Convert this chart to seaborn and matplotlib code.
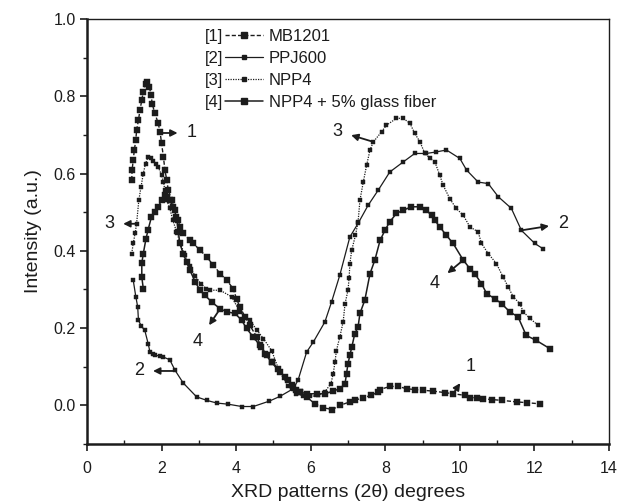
import numpy as np
import pandas as pd
import seaborn as sns
import matplotlib
matplotlib.use("Agg")
import matplotlib.pyplot as plt
from matplotlib.lines import Line2D
from matplotlib.ticker import MultipleLocator

# ---------------- data ----------------
series_names = ["MB1201", "PPJ600", "NPP4", "NPP4 + 5% glass fiber"]
legend_tags = ["[1]", "[2]", "[3]", "[4]"]

x_mb1201 = [1.20, 1.21, 1.24, 1.27, 1.31, 1.33, 1.38, 1.42, 1.47, 1.51, 1.57, 1.60, 1.67, 1.72,
            1.75, 1.82, 1.91, 1.96, 2.00, 2.05, 2.09, 2.14, 2.18, 2.27, 2.36, 2.45, 2.49, 2.58,
            2.76, 2.85, 3.03, 3.21, 3.39, 3.57, 3.75, 3.92, 4.01, 4.10, 4.24, 4.37, 4.55, 4.68,
            4.82, 4.95, 5.13, 5.31, 5.49, 5.60, 5.71, 5.89, 6.11, 6.34, 6.58, 6.78, 7.05, 7.18,
            7.41, 7.63, 7.81, 7.86, 8.12, 8.35, 8.57, 8.79, 9.02, 9.27, 9.60, 9.82, 10.13, 10.27,
            10.45, 10.63, 10.85, 11.12, 11.52, 11.79, 12.14]
y_mb1201 = [0.583, 0.609, 0.635, 0.661, 0.687, 0.712, 0.738, 0.764, 0.790, 0.812, 0.833, 0.838,
            0.825, 0.803, 0.780, 0.756, 0.730, 0.708, 0.678, 0.643, 0.609, 0.583, 0.557, 0.531,
            0.505, 0.479, 0.462, 0.445, 0.427, 0.419, 0.402, 0.384, 0.363, 0.341, 0.324, 0.302,
            0.276, 0.255, 0.229, 0.207, 0.177, 0.151, 0.130, 0.112, 0.095, 0.073, 0.052, 0.040,
            0.035, 0.022, 0.004, -0.006, -0.011, 0.000, 0.009, 0.013, 0.020, 0.026, 0.035, 0.041,
            0.049, 0.049, 0.043, 0.041, 0.039, 0.037, 0.033, 0.030, 0.026, 0.020, 0.020, 0.017,
            0.015, 0.013, 0.009, 0.007, 0.004]

x_ppj600 = [1.24, 1.31, 1.36, 1.38, 1.46, 1.55, 1.64, 1.69, 1.76, 1.82, 1.95, 2.05, 2.22, 2.36,
            2.58, 2.94, 3.21, 3.48, 3.79, 4.15, 4.46, 4.89, 5.17, 5.53, 5.66, 5.89, 6.07, 6.38,
            6.56, 6.78, 7.05, 7.27, 7.54, 7.81, 8.12, 8.48, 8.79, 9.10, 9.37, 9.64, 10.00, 10.18,
            10.49, 10.76, 11.03, 11.38, 11.65, 12.01, 12.22]
y_ppj600 = [0.324, 0.281, 0.255, 0.220, 0.205, 0.194, 0.160, 0.138, 0.132, 0.130, 0.128, 0.125,
            0.118, 0.091, 0.058, 0.022, 0.013, 0.006, 0.003, -0.003, -0.003, 0.011, 0.023, 0.043,
            0.065, 0.138, 0.164, 0.216, 0.268, 0.337, 0.436, 0.471, 0.518, 0.557, 0.604, 0.630,
            0.652, 0.652, 0.656, 0.661, 0.639, 0.609, 0.578, 0.574, 0.540, 0.510, 0.453, 0.419,
            0.406]

x_npp4 = [1.20, 1.24, 1.29, 1.33, 1.39, 1.45, 1.51, 1.57, 1.64, 1.72, 1.78, 1.84, 1.91, 2.00,
          2.05, 2.09, 2.14, 2.22, 2.30, 2.40, 2.50, 2.62, 2.75, 2.90, 3.05, 3.20, 3.30, 3.57,
          3.88, 4.10, 4.37, 4.55, 4.73, 4.95, 5.17, 5.40, 5.60, 5.80, 5.98, 6.20, 6.38, 6.54,
          6.60, 6.65, 6.69, 6.78, 6.87, 6.92, 7.00, 7.03, 7.05, 7.10, 7.20, 7.27, 7.32, 7.41,
          7.50, 7.59, 7.68, 7.90, 8.03, 8.30, 8.48, 8.66, 8.79, 8.93, 9.06, 9.20, 9.33, 9.46,
          9.55, 9.73, 9.90, 10.09, 10.27, 10.49, 10.58, 10.76, 10.98, 11.16, 11.30, 11.43,
          11.61, 11.70, 11.88, 12.10]
y_npp4 = [0.393, 0.419, 0.445, 0.470, 0.531, 0.566, 0.600, 0.626, 0.643, 0.639, 0.632, 0.626,
          0.617, 0.596, 0.578, 0.557, 0.531, 0.510, 0.480, 0.450, 0.420, 0.390, 0.360, 0.335,
          0.315, 0.302, 0.298, 0.298, 0.281, 0.242, 0.220, 0.196, 0.173, 0.142, 0.086, 0.050,
          0.030, 0.025, 0.023, 0.026, 0.035, 0.056, 0.080, 0.112, 0.142, 0.177, 0.216, 0.263,
          0.298, 0.330, 0.367, 0.402, 0.440, 0.475, 0.531, 0.578, 0.622, 0.661, 0.682, 0.708,
          0.725, 0.743, 0.743, 0.730, 0.704, 0.682, 0.652, 0.640, 0.630, 0.596, 0.570, 0.535,
          0.510, 0.492, 0.462, 0.449, 0.419, 0.393, 0.367, 0.332, 0.306, 0.281, 0.263, 0.242,
          0.225, 0.207]

x_npp4gf = [1.51, 1.47, 1.47, 1.51, 1.58, 1.64, 1.73, 1.82, 1.91, 2.00, 2.09, 2.15, 2.22, 2.31,
            2.40, 2.45, 2.49, 2.58, 2.67, 2.76, 2.90, 3.03, 3.16, 3.34, 3.57, 3.75, 3.97, 4.15,
            4.28, 4.46, 4.64, 4.77, 4.95, 5.17, 5.40, 5.53, 5.70, 5.89, 6.16, 6.38, 6.60, 6.78,
            6.92, 6.96, 7.00, 7.05, 7.10, 7.18, 7.27, 7.32, 7.45, 7.59, 7.72, 7.86, 7.99, 8.12,
            8.30, 8.48, 8.70, 8.93, 9.10, 9.24, 9.33, 9.46, 9.64, 9.82, 10.09, 10.27, 10.40,
            10.58, 10.72, 10.94, 11.12, 11.34, 11.56, 11.78, 12.05, 12.41]
y_npp4gf = [0.302, 0.332, 0.368, 0.393, 0.430, 0.455, 0.488, 0.500, 0.514, 0.531, 0.544, 0.540,
            0.531, 0.514, 0.488, 0.450, 0.419, 0.393, 0.371, 0.350, 0.320, 0.298, 0.285, 0.268,
            0.250, 0.242, 0.238, 0.220, 0.199, 0.177, 0.155, 0.134, 0.112, 0.086, 0.065, 0.047,
            0.035, 0.030, 0.030, 0.030, 0.037, 0.043, 0.056, 0.082, 0.108, 0.130, 0.150, 0.185,
            0.203, 0.238, 0.272, 0.341, 0.376, 0.427, 0.453, 0.475, 0.497, 0.505, 0.514, 0.514,
            0.505, 0.492, 0.479, 0.462, 0.440, 0.419, 0.376, 0.354, 0.341, 0.315, 0.289, 0.276,
            0.263, 0.242, 0.229, 0.181, 0.168, 0.147]

x_ticks = [0, 2, 4, 6, 8, 10, 12, 14]
y_ticks = [0.0, 0.2, 0.4, 0.6, 0.8, 1.0]

# ---------------- style ----------------
sns.set_style("ticks")
plt.rcParams["font.family"] = ["Liberation Sans", "DejaVu Sans"]

INK = "#1c1c1c"
fig, ax = plt.subplots(figsize=(6.2, 5.03), dpi=100)
fig.subplots_adjust(left=0.1403, right=0.9823, top=0.9622, bottom=0.1173)

styles = [
    dict(linestyle=(0, (3, 1.5)), lw=1.0, marker="s", markersize=3.8),
    dict(linestyle="-", lw=0.9, marker="s", markersize=3.0),
    dict(linestyle=(0, (1, 1)), lw=0.9, marker="s", markersize=2.4),
    dict(linestyle="-", lw=1.1, marker="s", markersize=3.8),
]
xs = [x_mb1201, x_ppj600, x_npp4, x_npp4gf]
ys = [y_mb1201, y_ppj600, y_npp4, y_npp4gf]

for name, xv, yv, st in zip(series_names, xs, ys, styles):
    df = pd.DataFrame({"x": xv, "y": yv})
    sns.lineplot(data=df, x="x", y="y", sort=False, estimator=None, ax=ax,
                 color=INK, markeredgecolor=INK, markerfacecolor=INK,
                 markeredgewidth=0.3, **st)

ax.set_xlim(0, 14)
ax.set_ylim(-0.1, 1.0)
ax.set_xticks(x_ticks)
ax.set_yticks(y_ticks)
ax.set_yticklabels([f"{v:.1f}" for v in y_ticks])
ax.xaxis.set_minor_locator(MultipleLocator(1))
ax.yaxis.set_minor_locator(MultipleLocator(0.1))
ax.tick_params(axis="both", which="major", direction="out", length=5, width=1.2,
               labelsize=11.5, colors=INK)
ax.tick_params(axis="x", which="major", pad=7)
ax.tick_params(axis="y", which="major", pad=3)
ax.tick_params(axis="x", which="minor", direction="in", length=3, width=1.0, colors=INK)
ax.tick_params(axis="y", which="minor", direction="out", length=3, width=1.0, colors=INK)
for side in ["left", "bottom"]:
    ax.spines[side].set_linewidth(1.8)
    ax.spines[side].set_color(INK)
for side in ["top", "right"]:
    ax.spines[side].set_visible(True)
    ax.spines[side].set_linewidth(1.0)
    ax.spines[side].set_color(INK)

ax.set_xlabel("XRD patterns (2θ) degrees", fontsize=14, color=INK, labelpad=6)
ax.set_ylabel("Intensity (a.u.)", fontsize=14, color=INK, labelpad=8)

# ---------------- curve labels with arrows ----------------
ann = [
    ("1", (1.96, 0.705), (2.80, 0.705)),
    ("1", (9.82, 0.030), (10.30, 0.100)),
    ("2", (2.36, 0.089), (1.40, 0.089)),
    ("2", (11.65, 0.453), (12.76, 0.470)),
    ("3", (1.33, 0.470), (0.60, 0.470)),
    ("3", (7.68, 0.682), (6.72, 0.710)),
    ("4", (3.57, 0.250), (2.98, 0.165)),
    ("4", (10.09, 0.376), (9.33, 0.315)),
]
for lab, xy, xyt in ann:
    ax.annotate(lab, xy=xy, xytext=xyt, fontsize=13, color=INK,
                ha="center", va="center",
                arrowprops=dict(arrowstyle="<|-", color=INK, lw=1.3,
                                mutation_scale=10, shrinkA=4, shrinkB=0))

# ---------------- legend ----------------
handles = [Line2D([], [], color=INK, markerfacecolor=INK, markeredgecolor=INK, **st)
           for st in styles]
leg_names = ax.legend(handles, series_names, loc="upper left",
                      bbox_to_anchor=(0.264, 0.977), frameon=False, fontsize=12,
                      handlelength=2.3, handletextpad=0.35, labelspacing=0.42,
                      borderpad=0, borderaxespad=0)
for t in leg_names.get_texts():
    t.set_color(INK)
ax.add_artist(leg_names)
blank = [Line2D([], [], linestyle="none") for _ in legend_tags]
leg_tags = ax.legend(blank, legend_tags, loc="upper left",
                     bbox_to_anchor=(0.226, 0.977), frameon=False, fontsize=12,
                     handlelength=0, handletextpad=0, labelspacing=0.42,
                     borderpad=0, borderaxespad=0)
for t in leg_tags.get_texts():
    t.set_color(INK)

fig.savefig("out.png", dpi=100)
